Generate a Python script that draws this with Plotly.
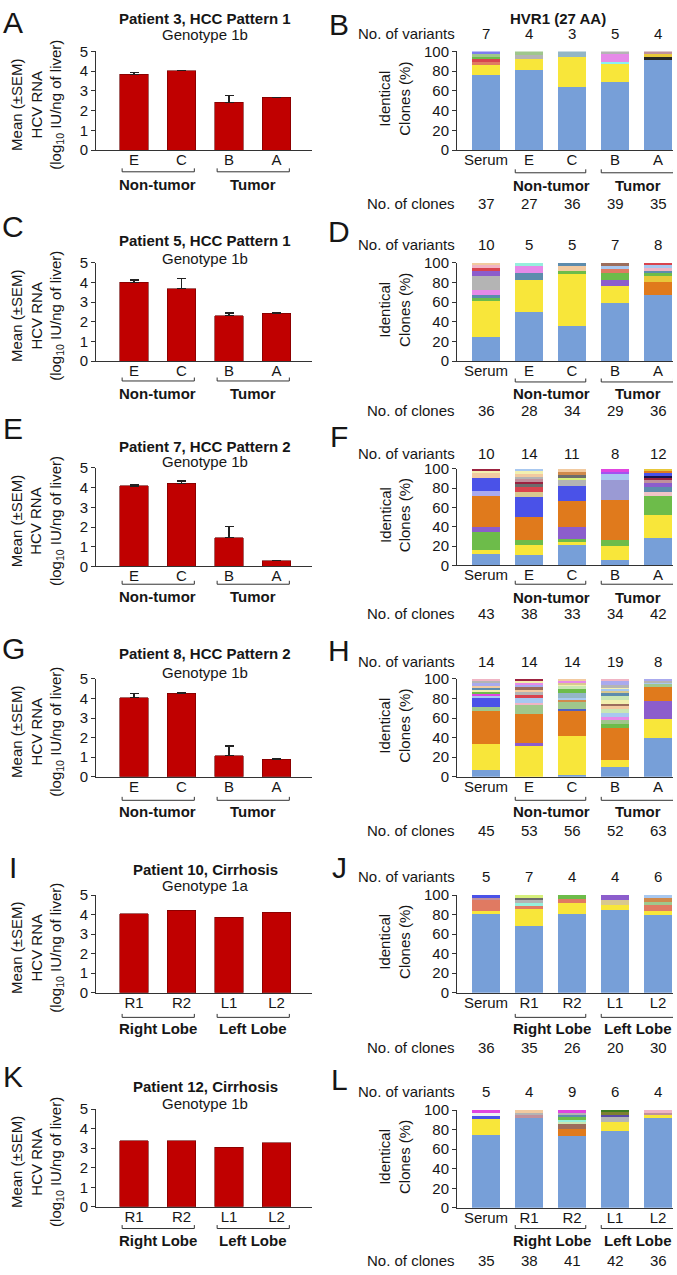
import plotly.graph_objects as go

W, H = 677, 1275
FONT = "Liberation Sans, Arial, Helvetica, sans-serif"
TXT = "#161616"
AXC = "#333333"

# ---------------- DATA: left panels (HCV RNA, log10 IU/ng liver) ----------------
left_letters = ["A", "C", "E", "G", "I", "K"]
left_titles = ["Patient 3, HCC Pattern 1", "Patient 5, HCC Pattern 1",
               "Patient 7, HCC Pattern 2", "Patient 8, HCC Pattern 2",
               "Patient 10, Cirrhosis", "Patient 12, Cirrhosis"]
left_genotypes = ["Genotype 1b", "Genotype 1b", "Genotype 1b",
                  "Genotype 1b", "Genotype 1a", "Genotype 1b"]
tumor_samples = ["E", "C", "B", "A"]
lobe_samples = ["R1", "R2", "L1", "L2"]
tumor_groups = ["Non-tumor", "Tumor"]
lobe_groups = ["Right Lobe", "Left Lobe"]

rna_mean_A = [3.84, 4.02, 2.42, 2.68]
rna_sem_A = [0.08, 0.0, 0.33, 0.0]
rna_mean_C = [4.00, 3.67, 2.31, 2.44]
rna_sem_C = [0.12, 0.53, 0.13, 0.0]
rna_mean_E = [4.08, 4.21, 1.46, 0.29]
rna_sem_E = [0.06, 0.12, 0.55, 0.0]
rna_mean_G = [4.05, 4.26, 1.07, 0.90]
rna_sem_G = [0.19, 0.04, 0.50, 0.0]
rna_mean_I = [4.04, 4.21, 3.86, 4.12]
rna_mean_K = [3.37, 3.39, 3.05, 3.29]

# ---------------- DATA: right panels (HVR1 identical clones, %) ----------------
right_letters = ["B", "D", "F", "H", "J", "L"]
serum_tumor_samples = ["Serum", "E", "C", "B", "A"]
serum_lobe_samples = ["Serum", "R1", "R2", "L1", "L2"]

variants_B = [7, 4, 3, 5, 4]
clones_B = [37, 27, 36, 39, 35]
pct_B = [[75.7, 10.8, 2.7, 2.7, 2.7, 2.7, 2.7],
         [81.5, 11.1, 3.7, 3.7],
         [63.9, 30.5, 5.6],
         [69.2, 17.9, 2.6, 7.7, 2.6],
         [91.4, 2.9, 2.9, 2.8]]
col_B = [["bl", "ye", "sa", "rd", "gr", "sg", "vi"],
         ["bl", "ye", "gy", "sg"],
         ["bl", "ye", "sb"],
         ["bl", "ye", "cy", "pk", "gy"],
         ["bl", "bk", "go", "mv"]]

variants_D = [10, 5, 5, 7, 8]
clones_D = [36, 28, 34, 29, 36]
pct_D = [[25.0, 36.1, 2.8, 2.8, 5.6, 13.8, 5.6, 2.8, 2.8, 2.7],
         [50.0, 32.1, 7.1, 7.1, 3.7],
         [35.3, 52.9, 2.9, 5.9, 3.0],
         [58.6, 17.2, 6.9, 6.9, 3.4, 3.4, 3.6],
         [66.7, 13.9, 5.6, 2.8, 2.8, 2.8, 2.8, 2.6]]
col_D = [["bl", "ye", "gr", "tl", "pk", "gy", "pu", "rd", "pp", "tn"],
         ["bl", "ye", "tl", "pk", "aq"],
         ["bl", "ye", "gr", "tn", "tl"],
         ["bl", "ye", "pu", "gr", "sa", "lb", "br"],
         ["bl", "or", "go", "gr", "tl", "pp", "lb", "rd"]]

variants_F = [10, 14, 11, 8, 12]
clones_F = [43, 38, 33, 34, 42]
pct_F = [[11.6, 4.7, 18.6, 4.7, 32.6, 4.7, 14.0, 4.7, 2.3, 2.1],
         [10.5, 10.5, 5.3, 23.7, 21.0, 5.3, 5.3, 2.6, 2.6, 2.6, 2.6, 2.6, 2.6, 2.8],
         [21.2, 3.0, 3.0, 12.1, 27.3, 15.2, 6.1, 3.0, 3.0, 3.0, 3.1],
         [5.9, 14.7, 5.9, 41.2, 20.6, 5.9, 2.9, 2.9],
         [28.6, 23.8, 19.0, 4.8, 4.8, 4.7, 2.4, 2.4, 2.4, 2.4, 2.4, 2.3]]
col_F = [["bl", "ye", "gr", "pu", "or", "lv", "db", "tn", "py", "dr"],
         ["bl", "ye", "gr", "or", "db", "kh", "rd", "dg", "dr", "mv", "gy", "tn", "py", "lb"],
         ["bl", "ye", "gr", "pu", "or", "db", "gy", "yg", "dg", "bo", "tn"],
         ["bl", "ye", "gr", "or", "gl", "lb", "vp", "mg"],
         ["bl", "ye", "gr", "rs", "tl", "pu", "mv", "dr", "nv", "db", "or", "go"]]

variants_H = [14, 14, 14, 19, 8]
clones_H = [45, 53, 56, 52, 63]
pct_H = [[6.7, 26.7, 33.3, 4.4, 8.9, 2.2, 2.2, 2.2, 2.2, 2.2, 2.2, 2.2, 2.2, 2.4],
         [32.1, 1.9, 30.2, 9.4, 1.9, 5.7, 1.9, 3.8, 1.9, 3.8, 1.9, 1.9, 1.9, 1.7],
         [1.8, 39.3, 26.8, 1.8, 7.1, 1.8, 1.8, 5.4, 3.6, 3.6, 1.8, 1.8, 1.8, 1.6],
         [9.6, 7.7, 32.7, 3.8, 3.8, 3.8, 3.8, 3.8, 3.8, 1.9, 3.8, 3.8, 3.8,
          1.9, 1.9, 1.9, 1.9, 3.8, 2.4],
         [39.7, 19.0, 19.0, 14.3, 3.2, 1.6, 1.6, 1.6]]
col_H = [["bl", "ye", "or", "sg", "db", "lb", "mg", "gr", "py", "tl", "tn", "lv", "gy", "pp"],
         ["ye", "pu", "or", "sg", "pp", "lb", "rd", "gy", "tn", "br", "lv", "pk", "py", "dr"],
         ["bl", "ye", "or", "nb", "sg", "bo", "lb", "sb", "gr", "pg", "py", "kh", "pk", "tn"],
         ["bl", "ye", "or", "gr", "sg", "pk", "lb", "pg", "tn", "br", "py", "pg", "tl",
          "kh", "lb", "py", "gy", "lv", "pp"],
         ["bl", "ye", "pu", "or", "sg", "lb", "gy", "lv"]]

variants_J = [5, 7, 4, 4, 6]
clones_J = [36, 35, 26, 20, 30]
pct_J = [[80.6, 2.8, 11.1, 2.8, 2.7],
         [68.6, 17.1, 2.9, 2.9, 2.9, 2.9, 2.7],
         [80.8, 11.5, 3.8, 3.9],
         [85.0, 5.0, 5.0, 5.0],
         [80.0, 3.3, 6.7, 3.3, 3.3, 3.4]]
col_J = [["bl", "ye", "sa", "mv", "db"],
         ["bl", "ye", "sa", "aq", "gy", "dg", "yg"],
         ["bl", "ye", "sa", "gr"],
         ["bl", "ye", "kh", "pu"],
         ["bl", "ye", "sa", "sg", "bo", "lb"]]

variants_L = [5, 4, 9, 6, 4]
clones_L = [35, 38, 41, 42, 36]
pct_L = [[74.3, 17.1, 2.9, 2.9, 2.8],
         [92.1, 2.6, 2.6, 2.7],
         [73.2, 7.3, 4.9, 2.4, 2.4, 2.4, 2.4, 2.4, 2.6],
         [78.6, 9.5, 4.8, 2.4, 2.4, 2.3],
         [91.7, 2.8, 2.8, 2.7]]
col_L = [["bl", "ye", "db", "wh", "mg"],
         ["bl", "mv", "gy", "tn"],
         ["bl", "or", "br", "pg", "aq", "gr", "tl", "gy", "mg"],
         ["bl", "ye", "gy", "np", "ol", "dn"],
         ["bl", "ye", "mv", "pp"]]

# ---------------- styles ----------------
PAL = {
    "bl": "#779fd8", "ye": "#f8e63a", "or": "#e07a1c", "gr": "#6dbc4a", "pu": "#8c5dcc",
    "rd": "#d9434e", "sa": "#e07a62", "pk": "#e68ae8", "mg": "#e045e0", "gy": "#b4b4b4",
    "dg": "#6c6c6c", "sg": "#9fc78c", "tn": "#f2caa0", "lb": "#a8c8f0", "db": "#4a52e8",
    "lv": "#a9aaee", "tl": "#5d8cad", "aq": "#95f0dc", "cy": "#8af0f4", "br": "#9c6d5c",
    "dr": "#9c2240", "nv": "#16164e", "bk": "#262626", "py": "#f2f0b0", "pg": "#c9e6b4",
    "yg": "#d6f07c", "ol": "#7e8030", "dn": "#3c7a22", "pp": "#f0b4c4", "mv": "#c0909c",
    "rs": "#f0c4c8", "kh": "#d8c890", "go": "#e8c83a", "sb": "#93b6c6", "vi": "#7c7cf0",
    "gl": "#9a9ad4", "vp": "#a452f0", "bo": "#d08a4c", "nb": "#5060c0", "wh": "#eef0f6",
    "np": "#5a4aa8",
}
BAR_RED = "#c00000"

# pixel layout
L_TOP = [43, 257, 465, 679, 898, 1115]
L_BOT = [143, 357, 565, 778, 997, 1214]
L_TITLE_Y = [10, 235, 443, 653, 872, 1092]
L_GENO_Y = [26, 253, 459, 672, 888, 1109]
L_BRACKET_Y = [165, 377, 583, 802, 1022, 1236]
L_GROUP_Y = [178, 390, 595, 813, 1033, 1248]
L_LETTER_Y = [14, 220, 425, 648, 870, 1082]

R_TOP = [43, 257, 466, 679, 898, 1116]
R_BOT = [143, 357, 564, 778, 997, 1215]
R_VAR_Y = [25, 239, 450, 661, 879, 1097]
R_CLONE_Y = [197, 407, 613, 833, 1053, 1268]
R_BRACKET_Y = [166, 378, 583, 802, 1022, 1236]
R_GROUP_Y = [179, 390, 596, 813, 1033, 1248]
R_LETTER_Y = [16, 225, 433, 650, 870, 1085]

L_X0, L_X1, L_C0, L_STEP = 96, 312, 134, 47.5
R_X0, R_X1, R_C0, R_STEP = 457, 673, 486, 43.0


def fx(p):
    return p / W


def fy(p):
    return 1 - p / H


def ax_names(n):
    return ("x" if n == 1 else f"x{n}", "y" if n == 1 else f"y{n}",
            "xaxis" if n == 1 else f"xaxis{n}", "yaxis" if n == 1 else f"yaxis{n}")


left_means = [rna_mean_A, rna_mean_C, rna_mean_E, rna_mean_G, rna_mean_I, rna_mean_K]
left_sems = [rna_sem_A, rna_sem_C, rna_sem_E, rna_sem_G, None, None]
right_pcts = [pct_B, pct_D, pct_F, pct_H, pct_J, pct_L]
right_cols = [col_B, col_D, col_F, col_H, col_J, col_L]
right_vars = [variants_B, variants_D, variants_F, variants_H, variants_J, variants_L]
right_clones = [clones_B, clones_D, clones_F, clones_H, clones_J, clones_L]

fig = go.Figure()
layout = dict(
    width=W, height=H, margin=dict(l=0, r=0, t=0, b=0),
    paper_bgcolor="white", plot_bgcolor="white", barmode="stack",
    showlegend=False, font=dict(family=FONT, size=15, color=TXT),
)
annotations = []
shapes = []


def bracket(xref, x0, x1, ypix):
    y0 = fy(ypix)
    d = 3.5 / H
    shapes.append(dict(type="path", xref=xref, yref="paper",
                       path=f"M {x0},{y0 + d} L {x0},{y0} L {x1},{y0} L {x1},{y0 + d}",
                       line=dict(color=AXC, width=1)))


def ann(text, x, y, xref="paper", size=15, bold=False, xanchor="center", angle=0):
    annotations.append(dict(text=f"<b>{text}</b>" if bold else text, x=x, y=y, xref=xref,
                            yref="paper", showarrow=False, xanchor=xanchor, yanchor="middle",
                            textangle=angle, font=dict(family=FONT, size=size, color=TXT)))


XAX_COMMON = dict(ticks="", ticklabelstandoff=-4, showline=True, linecolor=AXC, linewidth=1,
                  showgrid=False, zeroline=False, fixedrange=True,
                  tickfont=dict(size=15, color=TXT))
YAX_COMMON = dict(ticks="outside", ticklen=4, tickcolor=AXC, showline=True, linecolor=AXC,
                  linewidth=1, showgrid=False, zeroline=False, fixedrange=True,
                  tickfont=dict(size=15, color=TXT))

for p in range(6):
    # ----- left panel -----
    xs, ys, xk, yk = ax_names(2 * p + 1)
    lobe = p >= 4
    samples = lobe_samples if lobe else tumor_samples
    groups = lobe_groups if lobe else tumor_groups
    pos = list(range(len(samples)))
    err = None
    if left_sems[p] is not None:
        err = dict(type="data", array=left_sems[p], arrayminus=[0] * len(pos), symmetric=False,
                   color="#222222", thickness=1.2, width=4.5)
    fig.add_trace(go.Bar(x=pos, y=left_means[p], width=0.59, xaxis=xs, yaxis=ys,
                         marker=dict(color=BAR_RED, line=dict(color="#6a0000", width=0.6)),
                         error_y=err, hoverinfo="skip"))
    layout[xk] = dict(domain=[fx(L_X0), fx(L_X1)],
                      range=[(L_X0 - L_C0) / L_STEP, (L_X1 - L_C0) / L_STEP],
                      anchor=ys, tickvals=pos, ticktext=samples, **XAX_COMMON)
    layout[yk] = dict(domain=[fy(L_BOT[p]), fy(L_TOP[p])], range=[0, 5], anchor=xs,
                      tickvals=[0, 1, 2, 3, 4, 5], **YAX_COMMON)
    ann(left_letters[p], fx(13), fy(L_LETTER_Y[p]), size=30)
    ann(left_titles[p], 1.5, fy(L_TITLE_Y[p]), xref=xs, bold=True)
    ann(left_genotypes[p], 1.5, fy(L_GENO_Y[p]), xref=xs)
    ann("Mean (±SEM)<br>HCV RNA<br>(log<sub>10</sub> IU/ng of liver)", fx(37),
        fy((L_TOP[p] + L_BOT[p]) / 2 + 4), angle=-90)
    bracket(xs, -0.25, 1.27, L_BRACKET_Y[p])
    bracket(xs, 1.75, 3.27, L_BRACKET_Y[p])
    ann(groups[0], 0.5, fy(L_GROUP_Y[p]), xref=xs, bold=True)
    ann(groups[1], 2.5, fy(L_GROUP_Y[p]), xref=xs, bold=True)

    # ----- right panel -----
    xs, ys, xk, yk = ax_names(2 * p + 2)
    rsamples = serum_lobe_samples if lobe else serum_tumor_samples
    rpos = list(range(len(rsamples)))
    for i, (vals, cks) in enumerate(zip(right_pcts[p], right_cols[p])):
        for v, ck in zip(vals, cks):
            fig.add_trace(go.Bar(x=[i], y=[v], width=0.63, xaxis=xs, yaxis=ys,
                                 marker=dict(color=PAL[ck], line=dict(width=0)),
                                 hoverinfo="skip"))
    layout[xk] = dict(domain=[fx(R_X0), fx(R_X1)],
                      range=[(R_X0 - R_C0) / R_STEP, (R_X1 - R_C0) / R_STEP],
                      anchor=ys, tickvals=rpos, ticktext=rsamples, **XAX_COMMON)
    layout[yk] = dict(domain=[fy(R_BOT[p]), fy(R_TOP[p])], range=[0, 100], anchor=xs,
                      tickvals=[0, 20, 40, 60, 80, 100], **YAX_COMMON)
    ann(right_letters[p], fx(339), fy(R_LETTER_Y[p]), size=30)
    if p == 0:
        ann("HVR1 (27 AA)", fx(558), fy(10), bold=True)
    ann("No. of variants", fx(457), fy(R_VAR_Y[p]), xanchor="right")
    ann("No. of clones", fx(457), fy(R_CLONE_Y[p]), xanchor="right")
    for i in rpos:
        ann(str(right_vars[p][i]), i, fy(R_VAR_Y[p]), xref=xs)
        ann(str(right_clones[p][i]), i, fy(R_CLONE_Y[p]), xref=xs)
    ann("Identical<br>Clones (%)", fx(395), fy((R_TOP[p] + R_BOT[p]) / 2 - 2), angle=-90)
    bracket(xs, 0.68, 2.32, R_BRACKET_Y[p])
    bracket(xs, 2.68, 4.36, R_BRACKET_Y[p])
    ann(groups[0], 1.53, fy(R_GROUP_Y[p]), xref=xs, bold=True)
    ann(groups[1], 3.53, fy(R_GROUP_Y[p]), xref=xs, bold=True)

layout["annotations"] = annotations
layout["shapes"] = shapes
fig.update_layout(**layout)
fig.write_html("out.html",
               config={"displayModeBar": False},
               post_script="document.body.style.margin='0';"
                           "document.body.style.overflow='hidden';")
